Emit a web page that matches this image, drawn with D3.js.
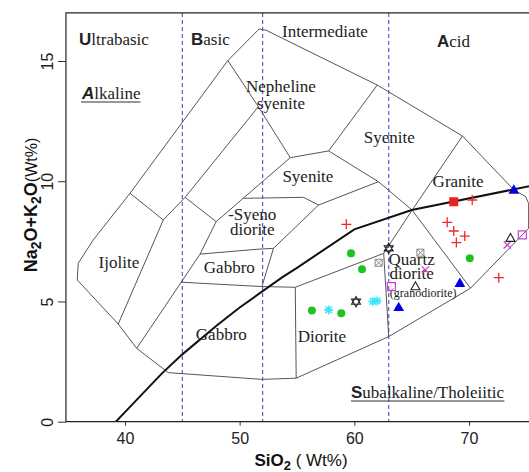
<!DOCTYPE html>
<html>
<head>
<meta charset="utf-8">
<script src="https://cdn.jsdelivr.net/npm/d3@7"></script>
<style>
  html, body { margin: 0; padding: 0; background: #fff; }
  svg { display: block; }
</style>
</head>
<body>
<svg id="chart" width="529" height="472"></svg>
<script>
// TAS classification for plutonic rocks (Cox et al. 1979, Wilson 1989)

const xTicks = [40, 50, 60, 70];
const yTicks = [0, 5, 10, 15];
const silicaDividers = [45, 52, 63];          // ultrabasic | basic | intermediate | acid

// outer envelope of the classification fields [SiO2, Na2O+K2O]
const envelope = [
  [48.97, 15.02], [51.7, 16.33], [52.3, 16.28], [62.0, 14.0], [69.43, 11.88],
  [73.91, 9.64], [74.94, 9.36], [75.2, 9.08], [75.2, 8.04], [70.13, 5.55],
  [63.0, 3.54], [54.93, 1.81], [51.94, 1.76], [43.78, 2.04], [41.02, 3.05],
  [39.41, 4.06], [35.84, 5.89], [35.92, 6.59], [37.23, 7.56], [40.44, 9.5],
  [48.97, 15.02]
];

// internal field boundaries
const fieldLines = [
  [[48.97, 15.02], [51.63, 13.1], [54.41, 10.98]],
  [[51.63, 13.1], [45.24, 9.33], [43.34, 8.39], [39.41, 4.06]],
  [[40.44, 9.5], [43.34, 8.39]],
  [[45.24, 9.33], [47.95, 8.32]],
  [[47.95, 8.32], [46.55, 6.97], [41.02, 3.05]],
  [[47.95, 8.32], [54.41, 10.98]],
  [[54.41, 10.98], [57.76, 11.26]],
  [[57.76, 11.26], [62.0, 14.0]],
  [[57.76, 11.26], [62.1, 9.98], [65.04, 8.8], [70.13, 5.55]],
  [[50.34, 9.29], [55.57, 9.33], [56.88, 9.01], [62.1, 9.98]],
  [[56.88, 9.01], [52.95, 7.21], [51.94, 5.62]],
  [[46.55, 6.97], [51.5, 7.17], [52.95, 7.21]],
  [[44.9, 5.8], [51.94, 5.62], [54.85, 5.59]],
  [[54.85, 5.59], [62.56, 7.0]],
  [[54.85, 5.59], [54.93, 1.81]],
  [[62.56, 7.0], [63.0, 3.54]],
  [[69.43, 11.88], [65.04, 8.8], [62.56, 7.0]]
];

// alkaline / subalkaline divide (Irvine & Baragar 1971)
const ibSilica = [39.2, 40, 43.2, 45, 48, 50, 53.7, 55, 60, 65, 77.4];
const ibAlkali = [0, 0.4, 2, 2.8, 4, 4.75, 6, 6.4, 8, 8.8, 10];

// field names [lines, SiO2, Na2O+K2O of first baseline, line spacing px]
const fieldNames = [
  [["Nepheline", "syenite"], 53.6, 13.72, 17],
  [["Syenite"], 63.05, 11.6, 0],
  [["Syenite"], 55.95, 9.97, 0],
  [["Granite"], 69.05, 9.75, 0],
  [["-Syeno", "diorite"], 51.1, 8.4, 15],
  [["Ijolite"], 39.47, 6.39, 0],
  [["Gabbro"], 49.1, 6.18, 0],
  [["Gabbro"], 48.4, 3.39, 0],
  [["Diorite"], 57.17, 3.33, 0],
  [["Quartz", "diorite"], 65.0, 6.5, 13.5]
];
const fieldNote = ["(granodiorite)", 66.0, 5.2];

// sample series [SiO2, Na2O+K2O]
const redPlus   = [[59.3, 8.21], [70.28, 9.22], [68.1, 8.29], [68.67, 7.93], [69.63, 7.72], [68.9, 7.45], [72.6, 5.99]];
const redSquare = [[68.67, 9.15]];
const blueTri   = [[73.91, 9.64], [69.2, 5.76], [63.87, 4.76]];
const greenDot  = [[59.71, 7.0], [60.67, 6.34], [56.3, 4.62], [58.86, 4.51], [70.07, 6.8]];
const cyanStar  = [[57.76, 4.65], [61.6, 5.0], [62.0, 5.02]];
const blackHex  = [[63.0, 7.21], [60.15, 4.99]];
const grayBoxX  = [[65.76, 7.03], [62.12, 6.61]];
const violetX   = [[66.2, 6.31], [73.34, 7.35]];
const violetSq  = [[63.23, 5.62], [74.65, 7.77]];
const openTri   = [[65.33, 5.62], [73.62, 7.63]];

const W = 529, H = 472;
const svg = d3.select("#chart");

const x = d3.scaleLinear().domain([40, 70]).range([125, 469]);
const y = d3.scaleLinear().domain([0, 15]).range([421.7, 61]);
const xMin = 34.85, xMax = 80, yMax = 17;
const plotL = x(xMin), plotT = y(yMax), plotB = y(0), plotR = x(xMax);

const serif = "'Liberation Serif', 'Times New Roman', serif";
const sans = "'Liberation Sans', Arial, sans-serif";

svg.append("defs").append("clipPath").attr("id", "plot")
  .append("rect").attr("x", plotL).attr("y", plotT)
  .attr("width", plotR - plotL).attr("height", plotB - plotT);

const plot = svg.append("g").attr("clip-path", "url(#plot)");
const line = d3.line().x(d => x(d[0])).y(d => y(d[1]));

// silica dividers
plot.selectAll("line.div").data(silicaDividers).join("line")
  .attr("x1", d => x(d)).attr("x2", d => x(d))
  .attr("y1", y(yMax)).attr("y2", y(0))
  .attr("stroke", "#5a5ad2").attr("stroke-width", 1.2)
  .attr("stroke-dasharray", "4,3");

// fields
plot.append("path").attr("d", line(envelope))
  .attr("fill", "none").attr("stroke", "#555").attr("stroke-width", 1);
plot.append("g").selectAll("path").data(fieldLines).join("path")
  .attr("d", line).attr("fill", "none")
  .attr("stroke", "#555").attr("stroke-width", 1);

// alkaline / subalkaline divide
plot.append("path").attr("d", line(ibSilica.map((s, i) => [s, ibAlkali[i]])))
  .attr("fill", "none").attr("stroke", "#111").attr("stroke-width", 2);

// field names (stacked lines share one text element)
plot.append("g").selectAll("text").data(fieldNames).join("text")
  .attr("x", d => x(d[1])).attr("y", d => y(d[2]))
  .attr("text-anchor", "middle")
  .attr("font-family", serif).attr("font-size", 17).attr("fill", "#222")
  .each(function (d) {
    const t = d3.select(this);
    d[0].forEach((s, i) => {
      t.append("tspan").attr("x", x(d[1])).attr("dy", i ? d[3] : 0).text(s);
    });
  });
plot.append("text")
  .attr("x", x(fieldNote[1])).attr("y", y(fieldNote[2]))
  .attr("text-anchor", "middle")
  .attr("font-family", serif).attr("font-size", 12).attr("fill", "#222")
  .text(fieldNote[0]);

// headings with a bold initial
function heading(parts, px, py, underline) {
  const t = plot.append("text").attr("x", px).attr("y", py).attr("fill", "#222");
  t.append("tspan").attr("font-family", sans).attr("font-weight", "bold")
    .attr("font-style", parts[2] ? "italic" : "normal")
    .attr("font-size", 17).text(parts[0]);
  t.append("tspan").attr("font-family", serif).attr("font-size", 17).text(parts[1]);
  if (underline) {
    const b = t.node().getBBox();
    plot.append("line").attr("x1", b.x).attr("x2", b.x + b.width)
      .attr("y1", py + 3).attr("y2", py + 3)
      .attr("stroke", "#333").attr("stroke-width", 1.2);
  }
}
heading(["U", "ltrabasic"], 79, 45);
heading(["B", "asic"], 191, 45);
heading(["A", "cid"], 437, 47);
heading(["A", "lkaline", true], 82, 99, true);
heading(["S", "ubalkaline/Tholeiitic"], 351, 398, true);
plot.append("text").attr("x", 282).attr("y", 37)
  .attr("font-family", serif).attr("font-size", 17).attr("fill", "#222")
  .text("Intermediate");

// samples
const sym = {
  plus: "M-5,0H5M0,-5V5",
  star: "M-4.5,0H4.5M0,-4.5V4.5M-3.2,-3.2L3.2,3.2M-3.2,3.2L3.2,-3.2",
  cross: "M-3.6,-3.6L3.6,3.6M-3.6,3.6L3.6,-3.6",
  tri: "M0,-5.6L5.4,3.8L-5.4,3.8Z",
  otri: "M0,-4.8L4.5,3.2L-4.5,3.2Z",
  hex: "M0,-5.2L4.5,2.6L-4.5,2.6ZM0,5.2L4.5,-2.6L-4.5,-2.6Z",
  sq: "M-4,-4H4V4H-4Z",
  fsq: "M-4.5,-4.5H4.5V4.5H-4.5Z",
  boxx: "M-3.5,-3.5H3.5V3.5H-3.5ZM-3.5,-3.5L3.5,3.5M-3.5,3.5L3.5,-3.5"
};
function samples(data, d, fill, stroke, sw) {
  plot.append("g").selectAll("path").data(data).join("path")
    .attr("transform", p => `translate(${x(p[0])},${y(p[1])})`)
    .attr("d", d).attr("fill", fill).attr("stroke", stroke).attr("stroke-width", sw);
}
samples(redPlus, sym.plus, "none", "#f02828", 1.3);
samples(grayBoxX, sym.boxx, "none", "#858585", 1);
samples(violetX, sym.cross, "none", "#c93fd0", 1.3);
samples(violetSq, sym.sq, "none", "#c93fd0", 1.2);
samples(openTri, sym.otri, "none", "#222", 1.1);
samples(blackHex, sym.hex, "none", "#222", 1.1);
samples(cyanStar, sym.star, "none", "#3ee6f5", 1.6);
plot.append("g").selectAll("circle").data(greenDot).join("circle")
  .attr("cx", p => x(p[0])).attr("cy", p => y(p[1])).attr("r", 4).attr("fill", "#1fc21f");
samples(blueTri, sym.tri, "#0000e6", "none", 0);
samples(redSquare, sym.fsq, "#f02020", "none", 0);

// frame
svg.append("path")
  .attr("d", `M${plotR},${plotT}H${plotL}V${plotB}H${plotR}`)
  .attr("fill", "none").attr("stroke", "#222").attr("stroke-width", 1.2);

// axes
const xAxis = svg.append("g").attr("transform", `translate(0,${plotB})`)
  .call(d3.axisBottom(x).tickValues(xTicks).tickSize(4).tickPadding(7));
const yAxis = svg.append("g").attr("transform", `translate(${plotL},0)`)
  .call(d3.axisLeft(y).tickValues(yTicks).tickSize(8));
[xAxis, yAxis].forEach(a => {
  a.select(".domain").remove();
  a.selectAll("line").attr("stroke", "#333");
  a.selectAll("text").attr("font-family", sans).attr("font-size", 16).attr("fill", "#222");
});
yAxis.selectAll("text")
  .attr("transform", "rotate(-90)")
  .attr("x", 0).attr("y", -13).attr("dy", 0)
  .attr("text-anchor", "middle");

// axis titles
const xt = svg.append("text").attr("x", 301).attr("y", 466)
  .attr("text-anchor", "middle").attr("font-family", sans).attr("fill", "#111");
xt.append("tspan").attr("font-weight", "bold").attr("font-size", 17).text("SiO");
xt.append("tspan").attr("font-weight", "bold").attr("font-size", 13).attr("dy", 4).text("2");
xt.append("tspan").attr("font-size", 17).attr("dy", -4).text(" ( Wt%)");

const yt = svg.append("text").attr("transform", "translate(37,205) rotate(-90)")
  .attr("text-anchor", "middle").attr("font-family", sans).attr("fill", "#111");
yt.append("tspan").attr("font-weight", "bold").attr("font-size", 18).text("Na");
yt.append("tspan").attr("font-weight", "bold").attr("font-size", 14).attr("dy", 4).text("2");
yt.append("tspan").attr("font-weight", "bold").attr("font-size", 18).attr("dy", -4).text("O+K");
yt.append("tspan").attr("font-weight", "bold").attr("font-size", 14).attr("dy", 4).text("2");
yt.append("tspan").attr("font-weight", "bold").attr("font-size", 18).attr("dy", -4).text("O");
yt.append("tspan").attr("font-size", 16).text("(Wt%)");
</script>
</body>
</html>
